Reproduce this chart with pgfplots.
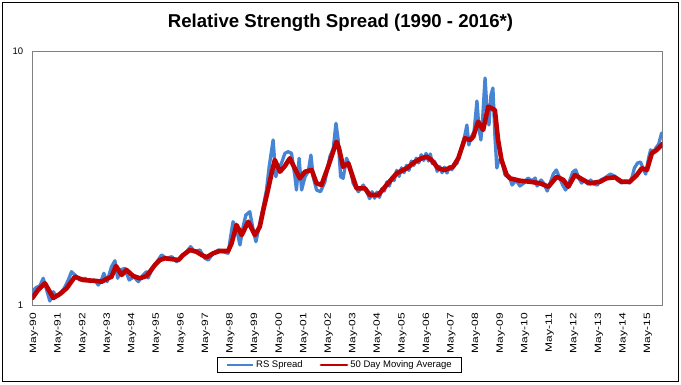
\documentclass[border=0pt]{standalone}
\usepackage{fontspec}
\setmainfont{Liberation Sans}
\usepackage{graphicx}
\usepackage{pgfplots}
\pgfplotsset{compat=1.18}
\definecolor{rsblue}{RGB}{70,132,212}
\definecolor{rsred}{RGB}{192,0,0}
\newcommand\xl[1]{\scalebox{1.3}[1]{#1}}
\begin{document}
\begin{tikzpicture}
\useasboundingbox (0bp,0bp) rectangle (681bp,385bp);
\fill[white] (0bp,0bp) rectangle (681bp,385bp);
\draw[black,line width=1bp] (2.5bp,3.5bp) rectangle (678.5bp,382.5bp);
\node[font=\fontsize{18.6bp}{21bp}\selectfont\bfseries] at (340.5bp,362bp) {Relative Strength Spread (1990 - 2016*)};
\begin{axis}[
  at={(32.3bp,80bp)}, anchor=south west,
  scale only axis, width=630bp, height=253.3bp,
  ymode=log, ymin=1, ymax=10,
  xmin=1990.265, xmax=2015.917,
  ytick={1,10}, yticklabels={1,10},
  xtick={1990.33,1991.33,1992.33,1993.33,1994.33,1995.33,1996.33,1997.33,1998.33,1999.33,2000.33,2001.33,2002.33,2003.33,2004.33,2005.33,2006.33,2007.33,2008.33,2009.33,2010.33,2011.33,2012.33,2013.33,2014.33,2015.33},
  xticklabels={\xl{May-90},\xl{May-91},\xl{May-92},\xl{May-93},\xl{May-94},\xl{May-95},\xl{May-96},\xl{May-97},\xl{May-98},\xl{May-99},\xl{May-00},\xl{May-01},\xl{May-02},\xl{May-03},\xl{May-04},\xl{May-05},\xl{May-06},\xl{May-07},\xl{May-08},\xl{May-09},\xl{May-10},\xl{May-11},\xl{May-12},\xl{May-13},\xl{May-14},\xl{May-15}},
  /pgf/number format/assume math mode=true,
  major tick length=0pt, minor tick length=0pt,
  axis line style={draw=black!50, line width=0.9bp},
  xticklabel style={rotate=90, anchor=east, font=\fontsize{9.2bp}{10bp}\selectfont, inner sep=0pt},
  xticklabel shift={8bp},
  yticklabel style={font=\fontsize{9.5bp}{11bp}\selectfont, inner sep=0pt},
  yticklabel shift={9bp},
  legend style={at={(0.4876,-0.237)}, anchor=center, draw=black, line width=0.8bp,
    font=\fontsize{9.5bp}{11bp}\selectfont, legend columns=2,
    /tikz/every even column/.append style={column sep=15bp},
    inner xsep=8bp, inner ysep=1.5bp},
  legend image code/.code={\draw[#1,line width=2.8bp] (0bp,0bp) -- (26bp,0bp);},
]
\addplot[rsblue, line width=3.3bp, line join=round] coordinates {
(1990.27,1.075)(1990.31,1.146)(1990.44,1.175)(1990.57,1.189)(1990.71,1.275)(1990.85,1.146)(1990.98,1.037)
(1991.12,1.128)(1991.25,1.078)(1991.46,1.128)(1991.59,1.175)(1991.73,1.255)(1991.86,1.353)(1992.00,1.314)
(1992.20,1.255)(1992.41,1.275)(1992.61,1.236)(1992.81,1.255)(1992.95,1.199)(1993.08,1.255)(1993.18,1.334)
(1993.31,1.236)(1993.49,1.416)(1993.63,1.496)(1993.74,1.275)(1993.86,1.375)(1994.03,1.396)(1994.21,1.255)
(1994.40,1.293)(1994.58,1.236)(1994.78,1.314)(1994.92,1.353)(1994.98,1.278)
(1995.19,1.416)(1995.39,1.505)(1995.53,1.576)(1995.73,1.529)(1995.94,1.551)(1996.14,1.483)(1996.34,1.551)
(1996.55,1.623)(1996.71,1.699)(1996.88,1.623)(1997.09,1.649)(1997.29,1.529)(1997.43,1.505)(1997.63,1.600)
(1997.84,1.649)(1998.04,1.623)(1998.24,1.600)(1998.34,1.861)(1998.44,2.132)(1998.58,2.008)(1998.72,1.725)
(1998.85,2.038)(1998.96,2.266)(1999.12,2.335)(1999.26,1.977)(1999.37,1.778)(1999.50,2.038)
(1999.67,2.444)(1999.80,2.844)(1999.91,3.516)(2000.01,4.093)(2000.07,4.481)(2000.18,3.210)(2000.28,3.465)
(2000.41,3.626)(2000.55,3.971)(2000.68,4.030)(2000.82,3.971)(2000.96,3.210)(2001.02,2.844)(2001.13,3.795)
(2001.23,2.844)(2001.37,3.210)(2001.50,3.360)(2001.61,3.910)(2001.70,3.210)(2001.84,2.844)(2002.00,2.801)
(2002.18,3.067)(2002.38,3.851)(2002.52,4.156)(2002.63,5.216)(2002.72,4.481)(2002.82,3.210)(2002.92,3.164)
(2003.06,3.795)(2003.20,3.516)(2003.33,3.023)(2003.54,2.801)(2003.74,2.977)(2003.94,2.718)
(2004.00,2.63)(2004.10,2.80)(2004.20,2.64)(2004.30,2.79)(2004.40,2.66)(2004.50,2.88)(2004.60,2.82)
(2004.70,3.06)(2004.80,2.95)(2004.90,3.18)(2005.00,3.10)(2005.10,3.40)(2005.20,3.22)(2005.30,3.48)
(2005.40,3.33)(2005.50,3.56)(2005.60,3.40)(2005.70,3.70)(2005.80,3.56)(2005.90,3.80)(2006.00,3.64)
(2006.10,3.92)(2006.20,3.72)(2006.30,3.97)(2006.40,3.70)(2006.47,3.95)(2006.55,3.62)(2006.65,3.68)
(2006.75,3.37)(2006.85,3.52)(2006.95,3.33)(2007.05,3.50)(2007.15,3.32)(2007.25,3.52)(2007.35,3.42)
(2007.45,3.62)(2007.55,3.60)(2007.64,3.90)
(2007.76,4.206)(2007.88,4.690)(2007.96,5.136)(2008.04,4.282)(2008.12,4.563)(2008.25,4.819)(2008.37,6.389)
(2008.45,4.998)(2008.53,4.481)(2008.61,5.625)(2008.70,7.874)(2008.78,5.887)(2008.86,5.136)(2008.94,6.745)
(2009.02,7.190)(2009.10,4.690)(2009.18,3.474)(2009.26,3.737)(2009.39,3.737)(2009.51,3.261)(2009.68,3.231)
(2009.80,2.977)(2009.96,3.115)(2010.12,2.950)(2010.28,3.031)(2010.45,3.172)(2010.61,3.087)(2010.74,3.172)
(2010.82,2.950)(2010.98,3.115)(2011.11,3.004)(2011.23,2.818)(2011.35,3.031)(2011.48,3.290)(2011.60,3.412)
(2011.74,3.172)(2011.86,2.977)(2011.98,2.844)(2012.10,3.004)(2012.27,3.350)(2012.39,3.412)(2012.52,3.172)
(2012.63,3.031)(2012.75,3.115)(2012.88,3.004)(2013.00,3.115)(2013.12,3.004)(2013.27,2.977)(2013.41,3.115)
(2013.57,3.172)(2013.69,3.231)(2013.81,3.290)(2013.97,3.231)(2014.09,3.115)(2014.25,3.031)(2014.42,3.087)
(2014.58,3.031)(2014.70,3.231)(2014.78,3.474)(2014.91,3.636)(2015.03,3.669)(2015.16,3.412)(2015.24,3.290)
(2015.36,3.805)(2015.44,4.093)(2015.57,4.030)(2015.65,4.156)(2015.77,4.321)(2015.89,4.775)(2015.92,4.563)
};
\addlegendentry{RS Spread}
\addplot[rsred, line width=4.6bp, line join=round, line cap=round] coordinates {
(1990.27,1.066)(1990.50,1.146)(1990.78,1.218)(1991.12,1.066)(1991.39,1.105)(1991.66,1.164)(1992.00,1.293)
(1992.34,1.255)(1992.88,1.244)(1993.09,1.236)(1993.29,1.267)(1993.49,1.293)(1993.67,1.426)(1993.90,1.314)
(1994.10,1.375)(1994.37,1.302)(1994.64,1.275)(1994.92,1.302)(1995.05,1.353)(1995.26,1.439)(1995.46,1.505)
(1995.66,1.529)(1996.00,1.515)(1996.21,1.505)(1996.41,1.576)(1996.68,1.649)(1996.95,1.623)(1997.16,1.576)
(1997.36,1.543)(1997.63,1.600)(1997.90,1.634)(1998.24,1.634)(1998.38,1.752)(1998.58,2.069)(1998.79,1.889)
(1999.06,2.132)(1999.33,1.889)(1999.53,2.038)(1999.67,2.371)(1999.86,2.844)(2000.02,3.350)(2000.14,3.737)
(2000.35,3.360)(2000.55,3.538)(2000.75,3.795)(2001.02,3.360)(2001.16,3.164)(2001.37,3.360)(2001.64,3.412)
(2001.84,3.023)(2002.04,2.977)(2002.31,3.516)(2002.65,4.413)(2002.75,4.168)(2002.92,3.516)(2003.13,3.626)
(2003.47,2.888)(2003.81,2.888)(2004.01,2.718)(2004.35,2.718)(2004.69,2.977)(2005.10,3.311)(2005.51,3.465)
(2005.85,3.679)(2006.12,3.795)(2006.32,3.851)(2006.52,3.737)(2006.79,3.465)(2007.06,3.412)(2007.40,3.516)
(2007.61,3.795)(2007.88,4.551)(2008.09,4.481)(2008.22,4.618)(2008.42,5.293)(2008.62,4.909)(2008.83,6.067)
(2009.10,5.887)(2009.23,4.481)(2009.37,3.737)(2009.58,3.261)(2009.71,3.164)(2010.12,3.095)(2010.53,3.067)
(2010.94,3.023)(2011.28,2.931)(2011.62,3.210)(2011.89,3.115)(2012.09,2.931)(2012.36,3.261)(2012.70,3.115)
(2012.97,3.023)(2013.38,3.067)(2013.65,3.164)(2013.99,3.193)(2014.26,3.067)(2014.60,3.067)(2014.88,3.261)
(2015.08,3.465)(2015.29,3.412)(2015.49,3.971)(2015.69,4.093)(2015.89,4.282)(2015.92,4.321)
};
\addlegendentry{50 Day Moving Average}
\end{axis}
\end{tikzpicture}
\end{document}
